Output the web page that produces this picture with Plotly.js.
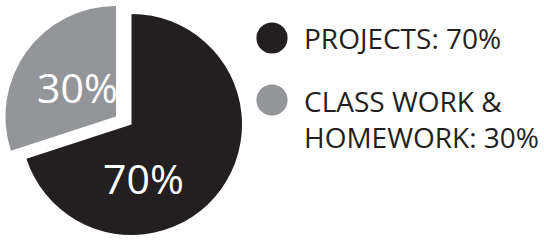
<!DOCTYPE html>
<html>
<head>
<meta charset="utf-8">
<script src="https://cdn.plot.ly/plotly-3.0.1.min.js"></script>
<style>
  html, body { margin: 0; padding: 0; background: #ffffff; }
  #chart { width: 544px; height: 242px; }
</style>
</head>
<body>
<div id="chart"></div>
<script>
// ---- data ----
var categories = ['PROJECTS', 'CLASS WORK & HOMEWORK'];
var legendLabels = ['PROJECTS', 'CLASS WORK &<br>HOMEWORK'];
var values = [70, 30];
var colors = ['#231f20', '#939598'];

// ---- layout helpers (pixel -> paper) ----
var W = 544, H = 242;
function px(x) { return x / W; }
function py(y) { return 1 - y / H; }
function domainFor(cx, cy, r) {
  return { x: [px(cx - r), px(cx + r)], y: [py(cy + r), py(cy - r)] };
}

var R = 110.5;
// the pulled-out slice is drawn as its own trace, shifted up-left
var centers = [[131.5, 124.5], [116, 116.5]];

var traces = categories.map(function (cat, i) {
  return {
    type: 'pie',
    labels: categories,
    values: values,
    sort: false,
    direction: 'clockwise',
    rotation: 0,
    marker: {
      colors: colors.map(function (c, j) { return j === i ? c : 'rgba(0,0,0,0)'; }),
      line: { width: 0 }
    },
    textinfo: 'none',
    hoverinfo: 'none',
    showlegend: false,
    domain: domainFor(centers[i][0], centers[i][1], R)
  };
});

var total = values.reduce(function (a, b) { return a + b; }, 0);
function pct(v) { return Math.round(v / total * 100) + '%'; }

// in-slice labels
var sliceLabelPos = [[143.5, 178], [77, 86.5]];
var annotations = values.map(function (v, i) {
  return {
    xref: 'paper', yref: 'paper',
    x: px(sliceLabelPos[i][0]), y: py(sliceLabelPos[i][1]),
    xanchor: 'center', yanchor: 'middle',
    text: pct(v), showarrow: false,
    font: { family: 'Open Sans, sans-serif', size: 41, color: '#ffffff' }
  };
});

// legend
var legendCircle = [[272, 38], [272, 100]];
var legendTextY = [38, 118.5];
var shapes = [];
categories.forEach(function (cat, i) {
  var cx = legendCircle[i][0], cy = legendCircle[i][1], rr = 15.6;
  shapes.push({
    type: 'circle', xref: 'paper', yref: 'paper',
    x0: px(cx - rr), x1: px(cx + rr), y0: py(cy + rr), y1: py(cy - rr),
    fillcolor: colors[i], line: { width: 0 }
  });
  annotations.push({
    xref: 'paper', yref: 'paper',
    x: px(302), y: py(legendTextY[i]),
    xanchor: 'left', yanchor: 'middle', align: 'left',
    text: legendLabels[i] + ': ' + pct(values[i]), showarrow: false,
    font: { family: 'Open Sans, sans-serif', size: 28, color: '#231f20' }
  });
});

var layout = {
  width: W, height: H,
  margin: { l: 0, r: 0, t: 0, b: 0, pad: 0 },
  paper_bgcolor: '#ffffff',
  showlegend: false,
  annotations: annotations,
  shapes: shapes
};

Plotly.newPlot('chart', traces, layout, { displayModeBar: false, staticPlot: true });
</script>
</body>
</html>
